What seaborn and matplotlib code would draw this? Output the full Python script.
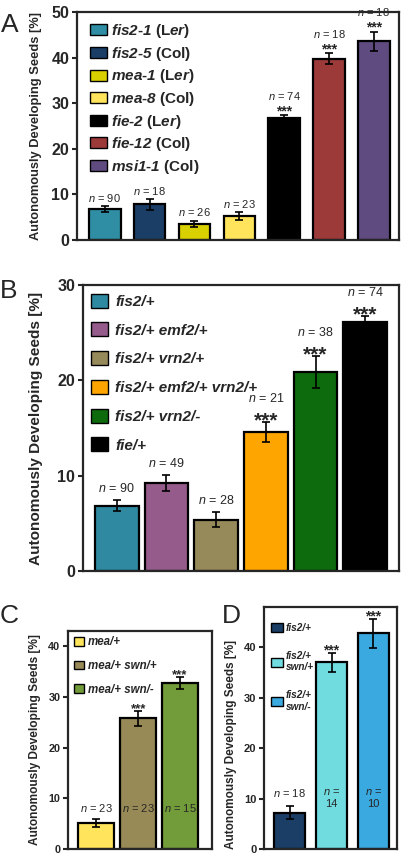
import pandas as pd
import matplotlib
matplotlib.use("Agg")
import matplotlib.pyplot as plt
import seaborn as sns
from matplotlib.patches import Patch

# panel A
a_names = ["fis2-1 (Ler)", "fis2-5 (Col)", "mea-1 (Ler)", "mea-8 (Col)",
           "fie-2 (Ler)", "fie-12 (Col)", "msi1-1 (Col)"]
a_labels = [r"$fis2$-$1$ (L$er$)",
            r"$fis2$-$5$ (Col)",
            r"$mea$-$1$ (L$er$)",
            r"$mea$-$8$ (Col)",
            r"$fie$-$2$ (L$er$)",
            r"$fie$-$12$ (Col)",
            r"$msi1$-$1$ (Col)"]
a_values = [6.8, 7.8, 3.5, 5.3, 26.8, 39.7, 43.6]
a_errors = [0.7, 1.2, 0.75, 0.9, 0.55, 1.2, 2.1]
a_n = ["90", "18", "26", "23", "74", "18", "18"]
a_sig = [False, False, False, False, True, True, True]
a_colors = ["#2f8ea3", "#1b3e66", "#d9d000", "#ffe45c", "#000000", "#9c3a3a", "#5f4b80"]

# panel B
b_names = ["fis2/+", "fis2/+ emf2/+", "fis2/+ vrn2/+", "fis2/+ emf2/+ vrn2/+",
           "fis2/+ vrn2/-", "fie/+"]
b_values = [6.85, 9.2, 5.4, 14.6, 20.9, 26.1]
b_errors = [0.55, 0.85, 0.77, 1.05, 1.7, 0.7]
b_n = ["90", "49", "28", "21", "38", "74"]
b_sig = [False, False, False, True, True, True]
b_colors = ["#2f8aa1", "#955b8b", "#978a5a", "#ffa500", "#0d6a0d", "#000000"]

# panel C
c_names = ["mea/+", "mea/+ swn/+", "mea/+ swn/-"]
c_values = [5.1, 25.8, 32.7]
c_errors = [0.8, 1.5, 1.2]
c_n = ["23", "23", "15"]
c_sig = [False, True, True]
c_colors = ["#ffe45c", "#978a56", "#729b3a"]

# panel D
d_names = ["fis2/+", "fis2/+\nswn/+", "fis2/+\nswn/-"]
d_values = [7.2, 37.0, 42.8]
d_errors = [1.3, 1.8, 2.9]
d_n = [" = 18", " =\n14", " =\n10"]
d_sig = [False, True, True]
d_colors = ["#1b3e66", "#70dce0", "#3aa9df"]

sns.set_style("ticks")
plt.rcParams["font.family"] = ["Liberation Sans", "DejaVu Sans"]
plt.rcParams["mathtext.fontset"] = "custom"
plt.rcParams["mathtext.rm"] = "Liberation Sans:italic:bold"
plt.rcParams["mathtext.bf"] = "Liberation Sans:bold"
plt.rcParams["mathtext.it"] = "Liberation Sans:italic:bold"
plt.rcParams["mathtext.sf"] = "Liberation Sans:italic"

W, H = 402, 856
fig = plt.figure(figsize=(W / 100, H / 100), dpi=100)


def box(left, top, right, bottom):
    return [left / W, 1 - bottom / H, (right - left) / W, (bottom - top) / H]


def panel(ax, names, values, errors, colors, width, ylim, yticks, tick_size,
          label_size, label_x, label_y=0.5):
    df = pd.DataFrame({"name": names, "value": values})
    sns.barplot(data=df, x="name", y="value", hue="name", palette=colors,
                width=width, saturation=1, edgecolor="black", linewidth=1.6,
                legend=False, ax=ax)
    ax.errorbar(range(len(values)), values, yerr=errors, fmt="none",
                ecolor="black", elinewidth=1.2, capsize=3, capthick=1.2)
    ax.set_ylim(*ylim)
    ax.set_yticks(yticks)
    ax.set_xlabel("")
    ax.set_ylabel("Autonomously Developing Seeds [%]", fontsize=label_size,
                  fontweight="bold")
    ax.yaxis.set_label_coords(label_x, label_y)
    ax.tick_params(axis="x", bottom=False, labelbottom=False)
    ax.tick_params(axis="y", direction="out", length=3.5, width=1.5,
                   labelsize=tick_size, pad=2)
    for lab in ax.get_yticklabels():
        lab.set_fontweight("bold")
    for sp in ax.spines.values():
        sp.set_linewidth(1.6)
        sp.set_visible(True)


def annotate(ax, values, errors, ns, sig, n_size, star_size, n_gap, star_gap, n_above_star):
    for i, (v, e, n, s) in enumerate(zip(values, errors, ns, sig)):
        top = v + e
        if s:
            ax.annotate("***", xy=(i, top), xytext=(0, star_gap), textcoords="offset points",
                        ha="center", va="baseline", fontsize=star_size, fontweight="bold")
            ax.annotate(r"$\mathsf{n}$ = " + n, xy=(i, top), xytext=(0, n_above_star),
                        textcoords="offset points", ha="center", va="baseline",
                        fontsize=n_size)
        else:
            ax.annotate(r"$\mathsf{n}$ = " + n, xy=(i, top), xytext=(0, n_gap),
                        textcoords="offset points", ha="center", va="baseline",
                        fontsize=n_size)


def stars(ax, values, errors, sig, star_size, star_gap):
    for i, (v, e, s) in enumerate(zip(values, errors, sig)):
        if s:
            ax.annotate("***", xy=(i, v + e), xytext=(0, star_gap), textcoords="offset points",
                        ha="center", va="baseline", fontsize=star_size, fontweight="bold")


def legend(ax, labels, colors, size, style, hl, hh, spacing, pad, anchor):
    handles = [Patch(facecolor=c, edgecolor="black", linewidth=1.0) for c in colors]
    ax.legend(handles, labels, loc="upper left", bbox_to_anchor=anchor, frameon=False,
              prop={"size": size, "weight": "bold", "style": style},
              handlelength=hl, handleheight=hh, labelspacing=spacing,
              handletextpad=pad, borderaxespad=0, borderpad=0)


# A
ax_a = fig.add_axes(box(77, 12, 399, 240))
panel(ax_a, a_names, a_values, a_errors, a_colors, 0.7, (0, 50), range(0, 51, 10), 11.5, 9.3, -0.108)
ax_a.set_xlim(-0.62, 6.56)
annotate(ax_a, a_values, a_errors, a_n, a_sig, 8, 10, 3, 0, 11)
legend(ax_a, a_labels, a_colors, 11, "normal", 1.1, 0.72, 0.3, 0.25, (0.04, 0.955))

# B
ax_b = fig.add_axes(box(83, 285, 399, 571))
panel(ax_b, b_names, b_values, b_errors, b_colors, 0.88, (0, 30), range(0, 31, 10), 11.5, 11.1, -0.126)
ax_b.set_xlim(-0.68, 5.68)
annotate(ax_b, b_values, b_errors, b_n, b_sig, 9, 15, 6, -3.5, 14)
legend(ax_b, b_names, b_colors, 11, "italic", 1.1, 1.05, 0.88, 0.5, (0.025, 0.97))

# C
ax_c = fig.add_axes(box(68, 631, 212, 849))
panel(ax_c, c_names, c_values, c_errors, c_colors, 0.85, (0, 43), range(0, 41, 10), 7.8, 8.6, -0.19)
ax_c.set_xlim(-0.67, 2.76)
stars(ax_c, c_values, c_errors, c_sig, 9.5, -1)
for i, n in enumerate(c_n):
    ax_c.text(i, 8.1, r"$\mathsf{n}$ = " + n, ha="center", va="center", fontsize=8)
legend(ax_c, c_names, c_colors, 8.3, "italic", 0.85, 0.8, 1.0, 0.4, (0.04, 0.975))

# D
ax_d = fig.add_axes(box(264, 607, 397, 849))
panel(ax_d, d_names, d_values, d_errors, d_colors, 0.74, (0, 48), range(0, 41, 10), 8, 8.5,
      -0.205, 0.43)
ax_d.set_xlim(-0.62, 2.57)
stars(ax_d, d_values, d_errors, d_sig, 10, -1)
for i, n in enumerate(d_n):
    ax_d.text(i, 12.2, r"$\mathsf{n}$" + n, ha="center", va="top", fontsize=8,
              multialignment="center")
legend(ax_d, d_names, d_colors, 7.2, "italic", 1.2, 1.0, 1.8, 0.3, (0.05, 0.935))

# panel letters
for letter, x, y in [("A", 1, 25), ("B", 0, 291), ("C", 0, 616), ("D", 222, 616)]:
    fig.text(x / W, 1 - y / H, letter, fontsize=19, ha="left", va="center")

fig.savefig("out.png", dpi=100)
plt.close(fig)
